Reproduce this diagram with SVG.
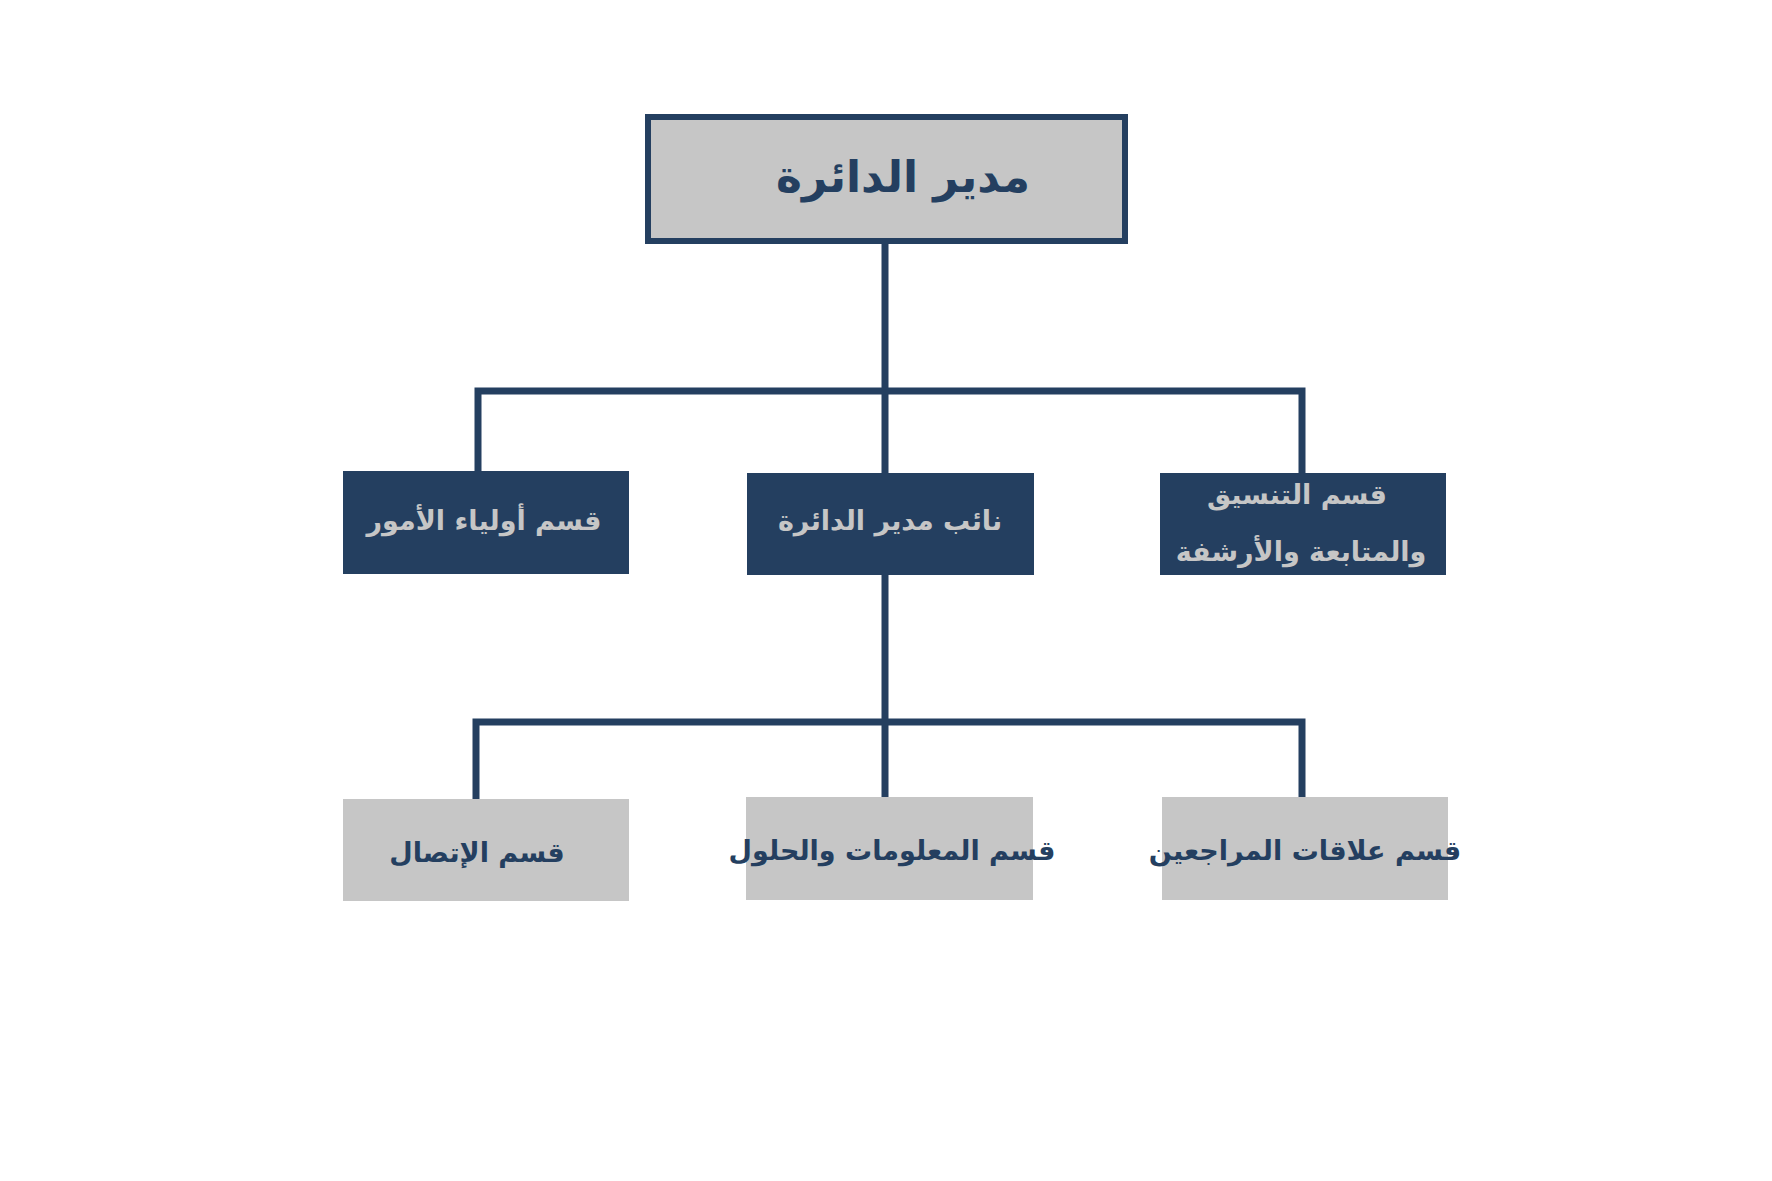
<svg xmlns="http://www.w3.org/2000/svg" width="1772" height="1181" viewBox="0 0 1772 1181">
<style>
.n{fill:#243F60}.g{fill:#C6C6C6}
.t{font-family:"DejaVu Sans","Noto Sans",sans-serif;font-weight:bold;text-anchor:middle;dominant-baseline:central}
.tl{fill:#C6C6C6;font-size:27px}.td{fill:#243F60;font-size:27px}
.c{fill:none;stroke:#243F60;stroke-width:7}
</style>
<rect width="1772" height="1181" fill="#fff"/>
<g id="connectors">
<path class="c" d="M885 244V473M478 473V391H1302V473"/>
<path class="c" d="M885 575V797M476 799V722H1302V797"/>
</g>
<g id="director">
<rect x="648" y="117" width="477" height="124" fill="#C6C6C6" stroke="#243F60" stroke-width="6"/>
<text class="t" x="903" y="176" font-size="44" fill="#243F60" direction="rtl">مدير الدائرة</text>
</g>
<g id="parents">
<rect class="n" x="343" y="471" width="286" height="103"/>
<text class="t tl" x="484" y="520" direction="rtl">قسم أولياء الأمور</text>
</g>
<g id="deputy">
<rect class="n" x="747" y="473" width="287" height="102"/>
<text class="t tl" x="890" y="520" direction="rtl">نائب مدير الدائرة</text>
</g>
<g id="coordination">
<rect class="n" x="1160" y="473" width="286" height="102"/>
<text class="t tl" x="1297" y="494" direction="rtl">قسم التنسيق</text>
<text class="t tl" x="1301" y="551" direction="rtl">والمتابعة والأرشفة</text>
</g>
<g id="communication">
<rect class="g" x="343" y="799" width="286" height="102"/>
<text class="t td" x="477" y="852" direction="rtl">قسم الإتصال</text>
</g>
<g id="information">
<rect class="g" x="746" y="797" width="287" height="103"/>
<text class="t td" x="892" y="850" direction="rtl">قسم المعلومات والحلول</text>
</g>
<g id="visitors">
<rect class="g" x="1162" y="797" width="286" height="103"/>
<text class="t td" x="1305" y="850" direction="rtl">قسم علاقات المراجعين</text>
</g>
</svg>
